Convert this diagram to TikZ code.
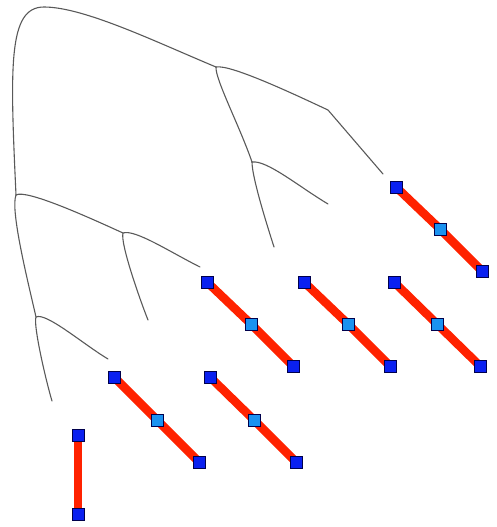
\documentclass[tikz,border=0pt]{standalone}
\usetikzlibrary{backgrounds}
\begin{document}
\begin{tikzpicture}[x=1pt,y=-1pt,
  branch/.style={draw=black!65,line width=1.1pt,line cap=round},
  bar/.style={draw=barred,line width=8.5pt},
  endsq/.style={rectangle,draw=black!70!blue,line width=0.5pt,fill=sqblue,minimum size=11.5pt,inner sep=0pt},
  midsq/.style={rectangle,draw=black!70!blue,line width=0.5pt,fill=sqlight,minimum size=11.5pt,inner sep=0pt}]
\definecolor{barred}{RGB}{255,34,0}
\definecolor{sqblue}{RGB}{10,32,240}
\definecolor{sqlight}{RGB}{26,146,240}
\useasboundingbox (0,0) rectangle (496,527);

% tree junctions and leaves
\coordinate (top) at (44,7);
\coordinate (A) at (216,67);
\coordinate (B) at (16,195);
\coordinate (K) at (328,110);
\coordinate (L1) at (383,174);
\coordinate (C) at (252,162);
\coordinate (L2) at (328,204);
\coordinate (L3) at (274,247);
\coordinate (D) at (123,233);
\coordinate (E) at (36,317);
\coordinate (L4) at (200,267);
\coordinate (L5) at (148,320);
\coordinate (L6) at (108,359);
\coordinate (L7) at (52,401);

\draw[branch] (B) .. controls +(-6,-130) and +(-36,0) .. (top)
              .. controls +(40,0) and +(-60,-25) .. (A);
\draw[branch] (A) .. controls +(15,-3) and +(-28,-13) .. (K) -- (L1);
\draw[branch] (A) .. controls +(-1,12) and +(-12,-35) .. (C);
\draw[branch] (C) .. controls +(15,-2) and +(-30,-18) .. (L2);
\draw[branch] (C) .. controls +(0,15) and +(-8,-25) .. (L3);
\draw[branch] (B) .. controls +(10,-6) and +(-35,-16) .. (D);
\draw[branch] (B) .. controls +(-6,15) and +(-8,-35) .. (E);
\draw[branch] (D) .. controls +(12,-4) and +(-30,-15) .. (L4);
\draw[branch] (D) .. controls +(-3,10) and +(-8,-20) .. (L5);
\draw[branch] (E) .. controls +(10,-5) and +(-25,-15) .. (L6);
\draw[branch] (E) .. controls +(-3,8) and +(-6,-20) .. (L7);

% diagonal segments: start, middle, end
\foreach \n/\ax/\ay/\mx/\my/\bx/\by in {
  1/396/187/440/229/482/271,
  2/207/282/251/324/293/366,
  3/304/282/348/324/390/366,
  4/394/282/437/324/480/366,
  5/114/377/157/420/199/462,
  6/210/377/254/420/296/462}{
  \node[endsq] (s\n a) at (\ax,\ay) {};
  \node[midsq] (s\n m) at (\mx,\my) {};
  \node[endsq] (s\n b) at (\bx,\by) {};
  \begin{scope}[on background layer]
    \draw[bar] (s\n a.center) -- (s\n m.center) -- (s\n b.center);
  \end{scope}
}

% vertical segment
\node[endsq] (s7a) at (78,435) {};
\node[endsq] (s7b) at (78,514) {};
\begin{scope}[on background layer]
  \draw[bar] (s7a.center) -- (s7b.center);
\end{scope}
\end{tikzpicture}
\end{document}
